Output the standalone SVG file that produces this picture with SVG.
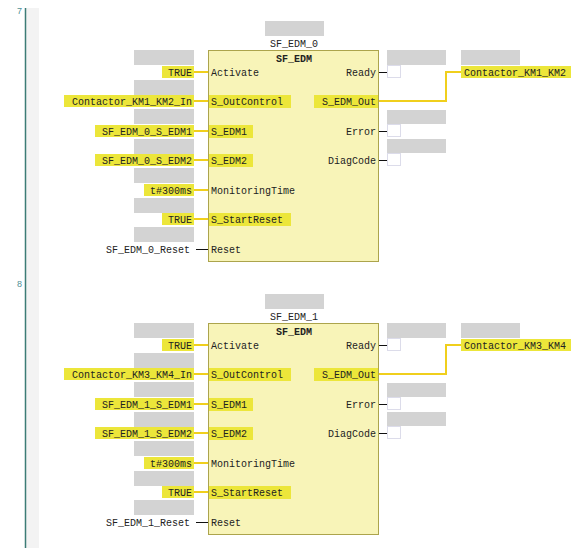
<svg xmlns="http://www.w3.org/2000/svg" width="580" height="560" viewBox="0 0 580 560">
<style>
text{font-family:"Liberation Mono","DejaVu Sans Mono",monospace;font-size:10px;fill:#222;}
.ln{font-family:"Liberation Sans",Arial,sans-serif;font-size:9px;fill:#4f8f96;}
.box{fill:#f8f4b8;stroke:#aca44c;stroke-width:1;}
.hl{fill:#ece63a;}
.gr{fill:#d3d3d3;}
.wb{fill:#fff;stroke:#dcdcea;stroke-width:1;}
.yw{stroke:#f0cf1c;stroke-width:2;fill:none;}
.bk{stroke:#111;stroke-width:1;fill:none;}
.r{text-anchor:end;}
.m{text-anchor:middle;}
.b{font-weight:bold;}
</style>
<rect x="0" y="0" width="580" height="560" fill="#fff"/>
<rect x="26" y="8" width="13" height="540" fill="#f3f3f3"/>
<line x1="25.5" y1="8" x2="25.5" y2="548" stroke="#3c7c76" stroke-width="1.5"/>
<text class="ln" x="17" y="14">7</text>
<text class="ln" x="17" y="287">8</text>

<g id="connectors">
 <g id="conn0">
  <line class="yw" x1="194" y1="72" x2="208" y2="72"/>
  <line class="yw" x1="194" y1="101" x2="208" y2="101"/>
  <line class="yw" x1="194" y1="131" x2="208" y2="131"/>
  <line class="yw" x1="194" y1="160" x2="208" y2="160"/>
  <line class="yw" x1="194" y1="190" x2="208" y2="190"/>
  <line class="yw" x1="194" y1="219" x2="208" y2="219"/>
  <line class="bk" x1="196" y1="249.5" x2="208" y2="249.5"/>
  <line class="bk" x1="379" y1="72.5" x2="387" y2="72.5"/>
  <path class="yw" d="M379 101 H446 V72 H461"/>
  <line class="bk" x1="379" y1="131.5" x2="387" y2="131.5"/>
  <line class="bk" x1="379" y1="160.5" x2="387" y2="160.5"/>
 </g>
 <g id="conn1" transform="translate(0,273)">
  <line class="yw" x1="194" y1="72" x2="208" y2="72"/>
  <line class="yw" x1="194" y1="101" x2="208" y2="101"/>
  <line class="yw" x1="194" y1="131" x2="208" y2="131"/>
  <line class="yw" x1="194" y1="160" x2="208" y2="160"/>
  <line class="yw" x1="194" y1="190" x2="208" y2="190"/>
  <line class="yw" x1="194" y1="219" x2="208" y2="219"/>
  <line class="bk" x1="196" y1="249.5" x2="208" y2="249.5"/>
  <line class="bk" x1="379" y1="72.5" x2="387" y2="72.5"/>
  <path class="yw" d="M379 101 H446 V72 H461"/>
  <line class="bk" x1="379" y1="131.5" x2="387" y2="131.5"/>
  <line class="bk" x1="379" y1="160.5" x2="387" y2="160.5"/>
 </g>
</g>

<g id="SF_EDM_0">
 <rect class="gr" x="265" y="21" width="59" height="15"/>
 <text class="m" x="294" y="47">SF_EDM_0</text>
 <rect class="box" x="208.5" y="50.5" width="170" height="211"/>
 <text class="m b" x="294" y="62">SF_EDM</text>
 <rect class="hl" x="209" y="95" width="82" height="13"/>
 <rect class="hl" x="209" y="125" width="44" height="13"/>
 <rect class="hl" x="209" y="154" width="44" height="13"/>
 <rect class="hl" x="209" y="213" width="82" height="13"/>
 <rect class="hl" x="314" y="95" width="64" height="13"/>
 <text x="211" y="75.5">Activate</text>
 <text x="211" y="104.5">S_OutControl</text>
 <text x="211" y="134.5">S_EDM1</text>
 <text x="211" y="163.5">S_EDM2</text>
 <text x="211" y="193.5">MonitoringTime</text>
 <text x="211" y="222.5">S_StartReset</text>
 <text x="211" y="252.5">Reset</text>
 <text class="r" x="376" y="75.5">Ready</text>
 <text class="r" x="376" y="104.5">S_EDM_Out</text>
 <text class="r" x="376" y="134.5">Error</text>
 <text class="r" x="376" y="163.5">DiagCode</text>
</g>
<g id="inputs0">
 <rect class="gr" x="134" y="50" width="60" height="15"/>
 <rect class="gr" x="134" y="80" width="60" height="15"/>
 <rect class="gr" x="134" y="109" width="60" height="15"/>
 <rect class="gr" x="134" y="139" width="60" height="15"/>
 <rect class="gr" x="134" y="168" width="60" height="15"/>
 <rect class="gr" x="134" y="198" width="60" height="15"/>
 <rect class="gr" x="134" y="227" width="60" height="15"/>
 <rect class="hl" x="162" y="66" width="32" height="12"/>
 <rect class="hl" x="64" y="95" width="130" height="12"/>
 <rect class="hl" x="95" y="125" width="99" height="12"/>
 <rect class="hl" x="95" y="154" width="99" height="12"/>
 <rect class="hl" x="144" y="184" width="50" height="12"/>
 <rect class="hl" x="162" y="213" width="32" height="12"/>
 <text class="r" x="192" y="75.5">TRUE</text>
 <text class="r" x="192" y="104.5">Contactor_KM1_KM2_In</text>
 <text class="r" x="192" y="134.5">SF_EDM_0_S_EDM1</text>
 <text class="r" x="192" y="163.5">SF_EDM_0_S_EDM2</text>
 <text class="r" x="192" y="193.5">t#300ms</text>
 <text class="r" x="192" y="222.5">TRUE</text>
 <text class="r" x="190" y="252.5">SF_EDM_0_Reset</text>
</g>
<g id="outputs0">
 <rect class="gr" x="387" y="50" width="59" height="15"/>
 <rect class="wb" x="387.5" y="65.5" width="13" height="12"/>
 <rect class="gr" x="387" y="110" width="59" height="14"/>
 <rect class="wb" x="387.5" y="124.5" width="13" height="12"/>
 <rect class="gr" x="387" y="139" width="59" height="14"/>
 <rect class="wb" x="387.5" y="153.5" width="13" height="12"/>
 <rect class="gr" x="461" y="50" width="59" height="15"/>
 <rect class="hl" x="461" y="66" width="110" height="12"/>
 <text x="464" y="75.5">Contactor_KM1_KM2</text>
</g>

<g id="SF_EDM_1" transform="translate(0,273)">
 <rect class="gr" x="265" y="21" width="59" height="15"/>
 <text class="m" x="294" y="47">SF_EDM_1</text>
 <rect class="box" x="208.5" y="50.5" width="170" height="211"/>
 <text class="m b" x="294" y="62">SF_EDM</text>
 <rect class="hl" x="209" y="95" width="82" height="13"/>
 <rect class="hl" x="209" y="125" width="44" height="13"/>
 <rect class="hl" x="209" y="154" width="44" height="13"/>
 <rect class="hl" x="209" y="213" width="82" height="13"/>
 <rect class="hl" x="314" y="95" width="64" height="13"/>
 <text x="211" y="75.5">Activate</text>
 <text x="211" y="104.5">S_OutControl</text>
 <text x="211" y="134.5">S_EDM1</text>
 <text x="211" y="163.5">S_EDM2</text>
 <text x="211" y="193.5">MonitoringTime</text>
 <text x="211" y="222.5">S_StartReset</text>
 <text x="211" y="252.5">Reset</text>
 <text class="r" x="376" y="75.5">Ready</text>
 <text class="r" x="376" y="104.5">S_EDM_Out</text>
 <text class="r" x="376" y="134.5">Error</text>
 <text class="r" x="376" y="163.5">DiagCode</text>
</g>
<g id="inputs1" transform="translate(0,273)">
 <rect class="gr" x="134" y="50" width="60" height="15"/>
 <rect class="gr" x="134" y="80" width="60" height="15"/>
 <rect class="gr" x="134" y="109" width="60" height="15"/>
 <rect class="gr" x="134" y="139" width="60" height="15"/>
 <rect class="gr" x="134" y="168" width="60" height="15"/>
 <rect class="gr" x="134" y="198" width="60" height="15"/>
 <rect class="gr" x="134" y="227" width="60" height="15"/>
 <rect class="hl" x="162" y="66" width="32" height="12"/>
 <rect class="hl" x="64" y="95" width="130" height="12"/>
 <rect class="hl" x="95" y="125" width="99" height="12"/>
 <rect class="hl" x="95" y="154" width="99" height="12"/>
 <rect class="hl" x="144" y="184" width="50" height="12"/>
 <rect class="hl" x="162" y="213" width="32" height="12"/>
 <text class="r" x="192" y="75.5">TRUE</text>
 <text class="r" x="192" y="104.5">Contactor_KM3_KM4_In</text>
 <text class="r" x="192" y="134.5">SF_EDM_1_S_EDM1</text>
 <text class="r" x="192" y="163.5">SF_EDM_1_S_EDM2</text>
 <text class="r" x="192" y="193.5">t#300ms</text>
 <text class="r" x="192" y="222.5">TRUE</text>
 <text class="r" x="190" y="252.5">SF_EDM_1_Reset</text>
</g>
<g id="outputs1" transform="translate(0,273)">
 <rect class="gr" x="387" y="50" width="59" height="15"/>
 <rect class="wb" x="387.5" y="65.5" width="13" height="12"/>
 <rect class="gr" x="387" y="110" width="59" height="14"/>
 <rect class="wb" x="387.5" y="124.5" width="13" height="12"/>
 <rect class="gr" x="387" y="139" width="59" height="14"/>
 <rect class="wb" x="387.5" y="153.5" width="13" height="12"/>
 <rect class="gr" x="461" y="50" width="59" height="15"/>
 <rect class="hl" x="461" y="66" width="110" height="12"/>
 <text x="464" y="75.5">Contactor_KM3_KM4</text>
</g>
</svg>
